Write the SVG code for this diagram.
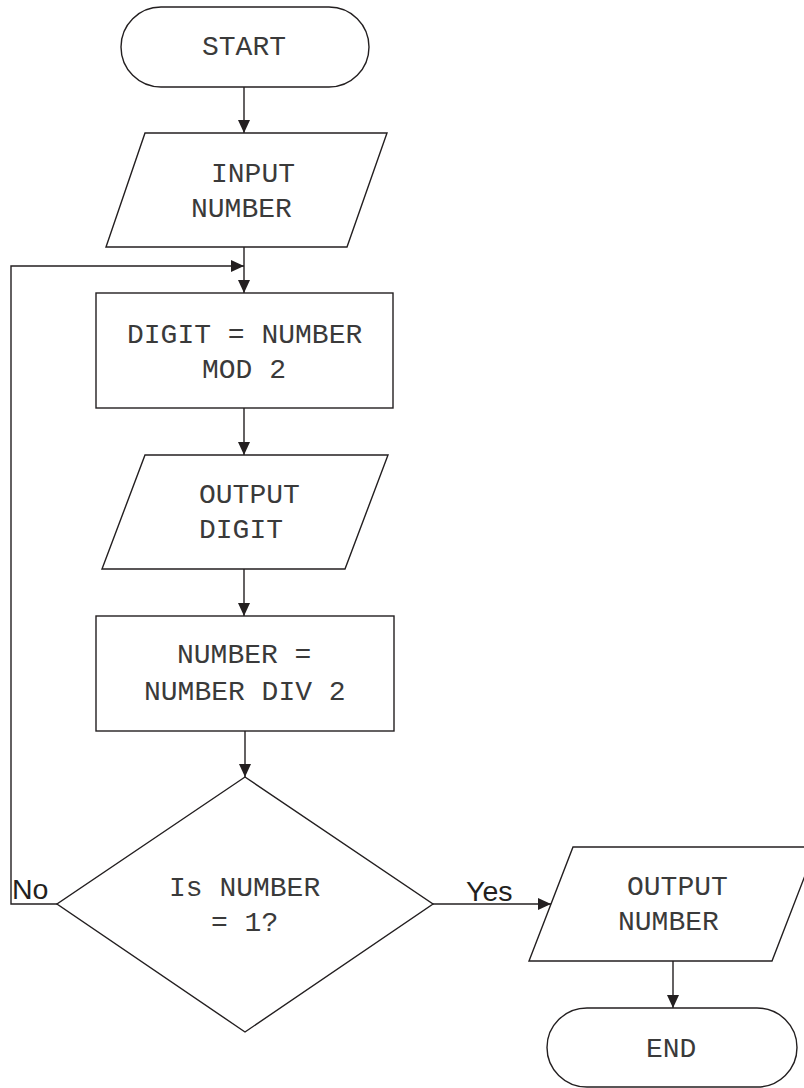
<svg xmlns="http://www.w3.org/2000/svg" width="804" height="1088" viewBox="0 0 804 1088">
<defs>
<style>
.shape{fill:#fff;stroke:#231f20;stroke-width:1.4}
.conn{fill:none;stroke:#231f20;stroke-width:1.4}
.t{font-family:"Liberation Mono","Courier New",monospace;font-size:28px;fill:#3a3a3a}
.lbl{font-family:"Liberation Sans",Arial,sans-serif;font-size:28.5px;fill:#231f20}
</style>
<marker id="ah" markerUnits="userSpaceOnUse" markerWidth="13" markerHeight="12" refX="13" refY="6" orient="auto">
<path d="M0,0 L13,6 L0,12 Z" fill="#231f20"/>
</marker>
</defs>
<rect width="804" height="1088" fill="#fff"/>
<g id="connectors">
<line class="conn" x1="244" y1="87" x2="244" y2="133" marker-end="url(#ah)"/>
<line class="conn" x1="244" y1="247" x2="244" y2="293" marker-end="url(#ah)"/>
<polyline class="conn" points="57,904 11,904 11,266 244,266" marker-end="url(#ah)"/>
<line class="conn" x1="244" y1="408" x2="244" y2="455" marker-end="url(#ah)"/>
<line class="conn" x1="244" y1="569" x2="244" y2="616" marker-end="url(#ah)"/>
<line class="conn" x1="245" y1="731" x2="245" y2="777" marker-end="url(#ah)"/>
<line class="conn" x1="433" y1="904" x2="551" y2="904" marker-end="url(#ah)"/>
<line class="conn" x1="673" y1="961" x2="673" y2="1008" marker-end="url(#ah)"/>
<text class="lbl" x="12" y="899">No</text>
<text class="lbl" x="466" y="901">Yes</text>
</g>
<g id="start">
<rect class="shape" x="121" y="7" width="248" height="80" rx="40" ry="40"/>
<text class="t" x="202" y="55">START</text>
</g>
<g id="input">
<polygon class="shape" points="145,133 387,133 347,247 106,247"/>
<text class="t" x="211" y="182">INPUT</text>
<text class="t" x="191" y="217">NUMBER</text>
</g>
<g id="digit">
<rect class="shape" x="96" y="293" width="297" height="115"/>
<text class="t" x="127" y="343">DIGIT = NUMBER</text>
<text class="t" x="202" y="378">MOD 2</text>
</g>
<g id="output-digit">
<polygon class="shape" points="145,455 388,455 345,569 102,569"/>
<text class="t" x="199" y="503">OUTPUT</text>
<text class="t" x="199" y="538">DIGIT</text>
</g>
<g id="div">
<rect class="shape" x="96" y="616" width="298" height="115"/>
<text class="t" x="177" y="663">NUMBER =</text>
<text class="t" x="144" y="700">NUMBER DIV 2</text>
</g>
<g id="decision">
<polygon class="shape" points="245,777 433,904 245,1032 57,904"/>
<text class="t" x="169" y="896">Is NUMBER</text>
<text class="t" x="211" y="931">= 1?</text>
</g>
<g id="output-number">
<polygon class="shape" points="573,847 816,847 772,961 529,961"/>
<text class="t" x="627" y="895">OUTPUT</text>
<text class="t" x="618" y="930">NUMBER</text>
</g>
<g id="end">
<rect class="shape" x="547" y="1008" width="250" height="79" rx="40" ry="39.5"/>
<text class="t" x="646" y="1057">END</text>
</g>
</svg>
